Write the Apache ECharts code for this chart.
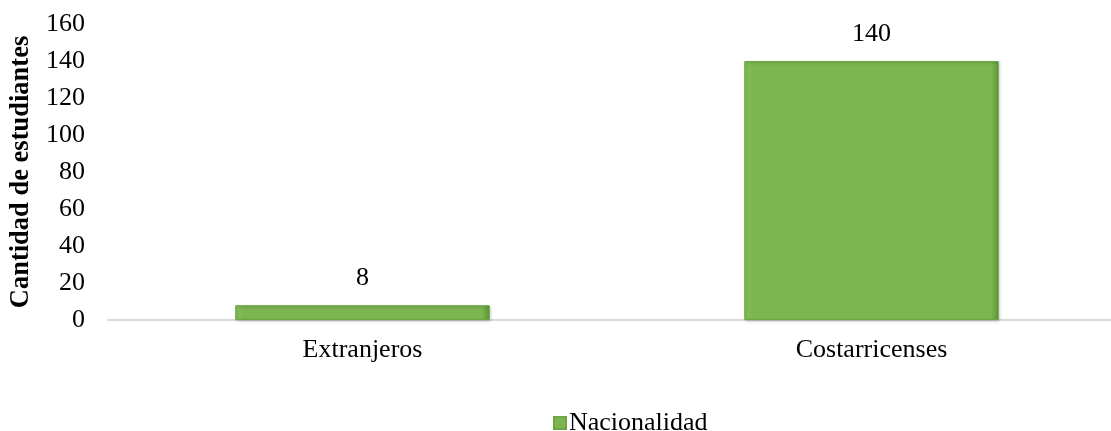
<!DOCTYPE html>
<html>
<head>
<meta charset="utf-8">
<script src="https://cdn.jsdelivr.net/npm/echarts@6/dist/echarts.min.js"></script>
<style>
  html, body { margin: 0; padding: 0; background: #ffffff; overflow: hidden; }
  #chart { width: 1130px; height: 431px; }
</style>
</head>
<body>
<div id="chart"></div>
<script>
  // datos
  var categorias = ['Extranjeros', 'Costarricenses'];
  var nacionalidad = [8, 140];
  var serieNombre = 'Nacionalidad';
  var ejeY = { min: 0, max: 160, interval: 20 };

  var fuente = '"Liberation Serif", "Times New Roman", serif';

  var chart = echarts.init(document.getElementById('chart'));
  chart.setOption({
    animation: false,
    textStyle: { fontFamily: fuente },
    grid: {
      left: 108,
      top: 24,
      width: 1018,
      bottom: 111
    },
    legend: {
      show: true,
      data: [serieNombre],
      left: 548,
      top: 405,
      icon: 'rect',
      itemWidth: 12,
      itemHeight: 12,
      itemGap: 4,
      textStyle: { fontFamily: fuente, fontSize: 26, color: '#000000', padding: [0, 0, 0, -2] }
    },
    xAxis: {
      type: 'category',
      data: categorias,
      axisTick: { show: false },
      axisLine: {
        // linea base
        lineStyle: { color: '#D9D9D9', width: 2 }
      },
      axisLabel: {
        margin: 17,
        fontFamily: fuente,
        fontSize: 26,
        color: '#000000'
      },
      splitLine: { show: false }
    },
    yAxis: {
      type: 'value',
      min: ejeY.min,
      max: ejeY.max,
      interval: ejeY.interval,
      name: 'Cantidad de estudiantes',
      nameLocation: 'middle',
      nameRotate: 90,
      nameGap: 71,
      nameTextStyle: {
        fontFamily: fuente,
        fontSize: 26.5,
        fontWeight: 'bold',
        color: '#000000'
      },
      axisLine: { show: false },
      axisTick: { show: false },
      splitLine: { show: false },
      axisLabel: {
        margin: 23,
        fontFamily: fuente,
        fontSize: 26,
        color: '#000000'
      }
    },
    series: [{
      name: serieNombre,
      type: 'bar',
      data: nacionalidad,
      barWidth: '50%',
      itemStyle: {
        color: {
          type: 'linear', x: 0, y: 0, x2: 1, y2: 0,
          colorStops: [
            { offset: 0, color: '#8AC45A' },
            { offset: 0.03, color: '#7BB64F' },
            { offset: 0.97, color: '#7BB64F' },
            { offset: 1, color: '#5E9438' }
          ]
        },
        borderColor: '#6FA545',
        borderWidth: 1,
        shadowColor: 'rgba(0,0,0,0.25)',
        shadowBlur: 3,
        shadowOffsetX: 1,
        shadowOffsetY: 1
      },
      label: {
        show: true,
        position: 'top',
        distance: 14,
        fontFamily: fuente,
        fontSize: 26,
        color: '#000000'
      }
    }]
  });
</script>
</body>
</html>
